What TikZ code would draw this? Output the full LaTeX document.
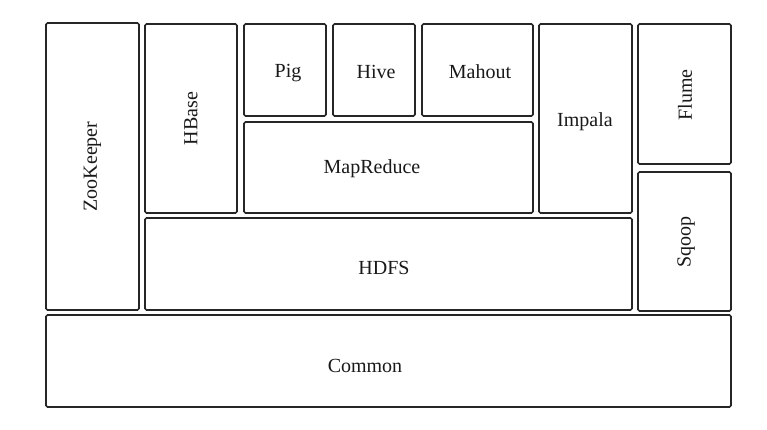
\documentclass[tikz,border=0pt]{standalone}
\usepackage{fontspec}
\setmainfont{Liberation Serif}
\begin{document}
\begin{tikzpicture}[x=1pt,y=-1pt,
  blk/.style={draw=black!85, line width=1.6pt, rounded corners=1.5pt, inner sep=0pt, outer sep=0pt,
    font=\fontsize{20}{24}\selectfont, text=black!90},
  lbl/.style={inner sep=0pt, font=\fontsize{20}{24}\selectfont, text=black!90}]
\useasboundingbox[fill=white] (0,0) rectangle (767,429);
\node[blk, minimum width=93pt, minimum height=287pt] (zk) at (92.5,166.5) {\rotatebox{90}{ZooKeeper}};
\node[blk, minimum width=92pt, minimum height=189pt] (hbase) at (191,118.5) {\rotatebox{90}{HBase}};
\node[blk, minimum width=82pt, minimum height=92pt] (pig) at (285,70) {};
\node[lbl] (pigt) at (288,73) {Pig};
\node[blk, minimum width=82pt, minimum height=92pt] (hive) at (374,70) {};
\node[lbl] (hivet) at (376,72) {Hive};
\node[blk, minimum width=111pt, minimum height=92pt] (mahout) at (477.5,70) {};
\node[lbl] (mahoutt) at (480,72) {Mahout};
\node[blk, minimum width=289pt, minimum height=91pt] (mr) at (388.5,167.5) {};
\node[lbl] (mrt) at (372,169) {MapReduce};
\node[blk, minimum width=93pt, minimum height=189pt] (impala) at (585.5,118.5) {};
\node[lbl] (impalat) at (585,122) {Impala};
\node[blk, minimum width=93pt, minimum height=140pt] (flume) at (684.5,94) {};
\node[lbl, rotate=90] (flumet) at (685,95) {Flume};
\node[blk, minimum width=93pt, minimum height=139pt] (sqoop) at (684.5,241.5) {};
\node[lbl, rotate=90] (sqoopt) at (686,242) {Sqoop};
\node[blk, minimum width=487pt, minimum height=92pt] (hdfs) at (388.5,264) {};
\node[lbl] (hdfst) at (384,268) {HDFS};
\node[blk, minimum width=685pt, minimum height=92pt] (common) at (388.5,361) {};
\node[lbl] (commont) at (365,366) {Common};
\end{tikzpicture}
\end{document}
